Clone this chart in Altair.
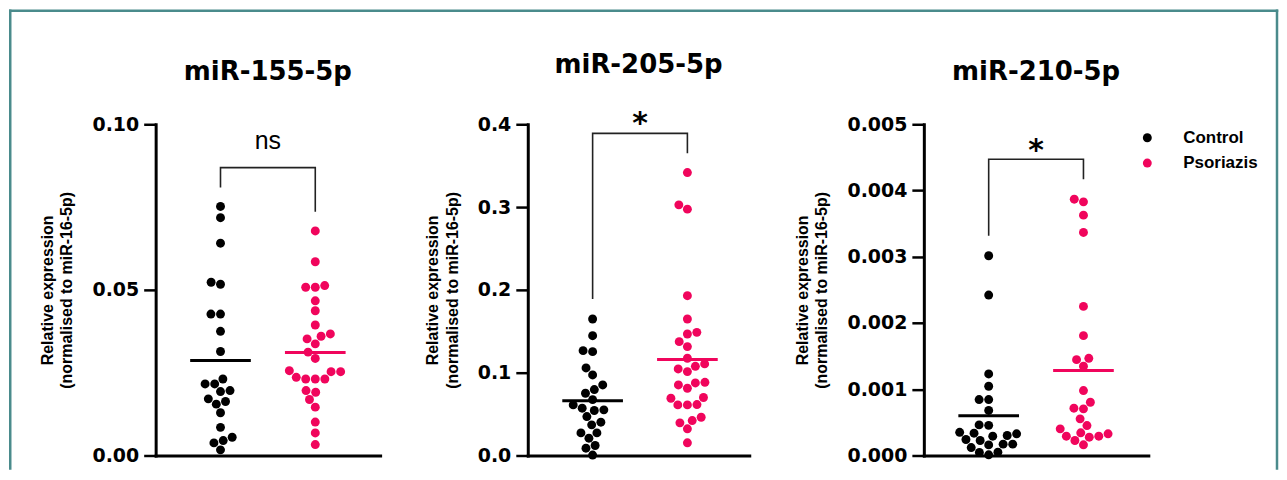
import math
import altair as alt
import pandas as pd

# ---------------- data ----------------
genes = ["miR-155-5p", "miR-205-5p", "miR-210-5p"]
groups = ["Control", "Psoriazis"]

control_155 = [0.0752, 0.0718, 0.0641, 0.0523, 0.0517, 0.0427, 0.0427, 0.0375,
               0.0314, 0.0231, 0.0196, 0.0216, 0.0193, 0.0216, 0.0171, 0.0155,
               0.0163, 0.0129, 0.0085, 0.0055, 0.0017, 0.0038, 0.0045]
psoriazis_155 = [0.0678, 0.0585, 0.0508, 0.0513, 0.0508, 0.0467, 0.0437, 0.0394,
                 0.0352, 0.0367, 0.0360, 0.0337, 0.0312, 0.0293, 0.0256, 0.0253,
                 0.0231, 0.0231, 0.0231, 0.0236, 0.0253, 0.0196, 0.0191, 0.0169,
                 0.0146, 0.0101, 0.0068, 0.0033]

control_205 = [0.1648, 0.1447, 0.1254, 0.1266, 0.1057, 0.0973, 0.0796, 0.0752,
               0.0675, 0.0852, 0.0551, 0.0571, 0.0543, 0.0611, 0.0470, 0.0370,
               0.0402, 0.0273, 0.0273, 0.0209, 0.0121, 0.0088, 0.0005]
psoriazis_205 = [0.3417, 0.3027, 0.2975, 0.1930, 0.1648, 0.1467, 0.1487, 0.1375,
                 0.1315, 0.1174, 0.1077, 0.1045, 0.1106, 0.1013, 0.0884, 0.0812,
                 0.0852, 0.0876, 0.0691, 0.0615, 0.0611, 0.0611, 0.0700, 0.0422,
                 0.0462, 0.0394, 0.0322, 0.0153]

control_210 = [0.003015, 0.002422, 0.001231, 0.001045, 0.000844, 0.000844,
               0.000680, 0.000455, 0.000462, 0.000337, 0.000291, 0.000302,
               0.000241, 0.000226, 0.000327, 0.000350, 0.000171, 0.000171,
               0.000160, 0.000045, 0.000050, 0.000010, 0.000120]
psoriazis_210 = [0.003829, 0.003869, 0.003628, 0.003367, 0.002251, 0.001809,
                 0.001467, 0.001447, 0.001347, 0.000980, 0.000804, 0.000704,
                 0.000714, 0.000553, 0.000402, 0.000452, 0.000327, 0.000226,
                 0.000291, 0.000291, 0.000342, 0.000276, 0.000161]

control_sets = [control_155, control_205, control_210]
psoriazis_sets = [psoriazis_155, psoriazis_205, psoriazis_210]

y_max = [0.10, 0.4, 0.005]
tick_values = [[0.0, 0.05, 0.10],
               [0.0, 0.1, 0.2, 0.3, 0.4],
               [0.0, 0.001, 0.002, 0.003, 0.004, 0.005]]
tick_formats = [".2f", ".1f", ".3f"]

sig_labels = ["ns", "*", "*"]
bracket_top = [0.0869, 0.389, 0.004472]
bracket_left_end = [0.0809, 0.1889, 0.003317]
bracket_right_end = [0.0736, 0.365, 0.004171]
sig_label_y = [0.0925, 0.3896, 0.004457]

y_title = ["Relative expression", "(normalised to miR-16-5p)"]

# ---------------- styling / layout ----------------
BLACK = "#000000"
PINK = "#F0055C"
FRAME = "#4A8B8C"
PLOT_H = 332
widths = [225, 222, 225]
gaps = [148, 175]
PX_PER_GROUP = 95.0
LEFT_PX = 65.0
DOT_SIZE = 80
DOT_D = 9.6
title_offsets = [44, 51, 44]

color_scale = alt.Scale(domain=groups, range=[BLACK, PINK])


def swarm(vals, ymax, d=DOT_D):
    ypx = [v / ymax * PLOT_H for v in vals]
    order = sorted(range(len(vals)), key=lambda k: ypx[k])
    placed = []
    xs = [0.0] * len(vals)
    for k in order:
        y = ypx[k]
        ivs = []
        for (px, py) in placed:
            dy = abs(py - y)
            if dy < d:
                h = math.sqrt(d * d - dy * dy)
                ivs.append((px - h, px + h))
        cands = [0.0] + [a for a, b in ivs] + [b for a, b in ivs]
        cands.sort(key=lambda c: (abs(c), c))
        for c in cands:
            if all(not (a + 1e-9 < c < b - 1e-9) for a, b in ivs):
                xs[k] = c
                break
        placed.append((xs[k], y))
    return xs


def make_panel(i):
    rows = []
    for g, vals in enumerate([control_sets[i], psoriazis_sets[i]]):
        offs = swarm(vals, y_max[i])
        for v, o in zip(vals, offs):
            rows.append({"grp": g, "group": groups[g], "value": v,
                         "pos": g + o / PX_PER_GROUP})
    df = pd.DataFrame(rows)

    W = widths[i]
    xs = alt.Scale(domain=[-LEFT_PX / PX_PER_GROUP, (W - LEFT_PX) / PX_PER_GROUP],
                   nice=False, zero=False)
    ys = alt.Scale(domain=[0, y_max[i]], nice=False, zero=True)
    x_axis = alt.Axis(title=None, labels=False, ticks=False, grid=False,
                      domainWidth=3, domainColor=BLACK, domainCap="square")
    y_axis = alt.Axis(title=y_title, values=tick_values[i], format=tick_formats[i],
                      grid=False, domainWidth=3, domainColor=BLACK, domainCap="square",
                      tickWidth=2.5, tickColor=BLACK, tickSize=12,
                      labelFont="DejaVu Sans", labelFontWeight="bold", labelFontSize=19,
                      labelColor=BLACK, labelPadding=5,
                      titleFont="Liberation Sans", titleFontWeight="bold",
                      titleFontSize=16, titleLineHeight=20, titleColor=BLACK,
                      titlePadding=17)
    legend = alt.Legend(title=None, orient="none", legendX=985.5, legendY=5,
                        symbolType="circle", symbolSize=DOT_SIZE, symbolStrokeWidth=0,
                        labelFont="Liberation Sans", labelFontWeight="bold",
                        labelFontSize=17, labelColor=BLACK, labelOffset=27.5,
                        rowPadding=7.4, padding=0)

    X = lambda f: alt.X(f, scale=xs, axis=x_axis)
    Y = lambda f: alt.Y(f, scale=ys, axis=y_axis)

    points = alt.Chart(df).mark_circle(size=DOT_SIZE, opacity=1).encode(
        x=X("pos:Q"), y=Y("value:Q"),
        color=alt.Color("group:N", scale=color_scale, legend=legend))

    means = alt.Chart(df).transform_aggregate(
        mean="mean(value)", groupby=["grp", "group"]
    ).transform_calculate(
        x1="datum.grp - 0.32", x2="datum.grp + 0.32"
    ).mark_rule(strokeWidth=3).encode(
        x=X("x1:Q"), x2="x2:Q", y=Y("mean:Q"),
        color=alt.Color("group:N", scale=color_scale, legend=None))

    br = pd.DataFrame({"bx": [0, 0, 1, 1],
                       "by": [bracket_left_end[i], bracket_top[i],
                              bracket_top[i], bracket_right_end[i]],
                       "o": [0, 1, 2, 3]})
    bracket = alt.Chart(br).mark_line(color="#222222", strokeWidth=1.6,
                                      strokeJoin="miter").encode(
        x=X("bx:Q"), y=Y("by:Q"), order="o:Q")

    lab = pd.DataFrame({"lx": [0.5], "ly": [sig_label_y[i]], "t": [sig_labels[i]]})
    if sig_labels[i] == "ns":
        txt = alt.Chart(lab).mark_text(font="Liberation Sans", fontSize=25,
                                       baseline="alphabetic", align="center",
                                       color=BLACK)
    else:
        txt = alt.Chart(lab).mark_text(font="DejaVu Sans", fontWeight="bold",
                                       fontSize=30, baseline="alphabetic",
                                       align="center", color=BLACK)
    label = txt.encode(x=X("lx:Q"), y=Y("ly:Q"), text="t:N")

    # panel title as a text mark centred over the plot area
    tdf = pd.DataFrame({"t": [genes[i]]})
    title = alt.Chart(tdf).mark_text(font="DejaVu Sans", fontWeight="bold",
                                     fontSize=26, color=BLACK, align="center",
                                     baseline="alphabetic").encode(
        text="t:N", x=alt.value(W / 2), y=alt.value(-title_offsets[i]))

    layers = [points, means, bracket, label, title]

    if i == 0:
        fdf = pd.DataFrame({"k": [0]})
        fx0, fx1, fy0, fy1 = -145.75, 1124, -113.75, 345
        top = alt.Chart(fdf).mark_rule(color=FRAME, strokeWidth=2.5,
                                       strokeCap="square").encode(
            x=alt.value(fx0), x2=alt.value(fx1), y=alt.value(fy0))
        left = alt.Chart(fdf).mark_rule(color=FRAME, strokeWidth=2.5,
                                        strokeCap="square").encode(
            x=alt.value(fx0), y=alt.value(fy0), y2=alt.value(fy1))
        right = alt.Chart(fdf).mark_rule(color=FRAME, strokeWidth=2.5,
                                         strokeCap="square").encode(
            x=alt.value(fx1), y=alt.value(fy0), y2=alt.value(fy1))
        layers += [top, left, right]

    return alt.layer(*layers).properties(width=W, height=PLOT_H)


def spacer(w):
    return alt.Chart(pd.DataFrame({"a": [0]})).mark_text(text="").properties(
        width=w, height=PLOT_H)


chart = alt.hconcat(make_panel(0), spacer(gaps[0]), make_panel(1),
                    spacer(gaps[1]), make_panel(2),
                    spacing=0, bounds="flush").properties(
    padding=0, background="white"
).configure_view(strokeWidth=0)

chart.save("out.html", embed_options={"renderer": "svg", "actions": False})
